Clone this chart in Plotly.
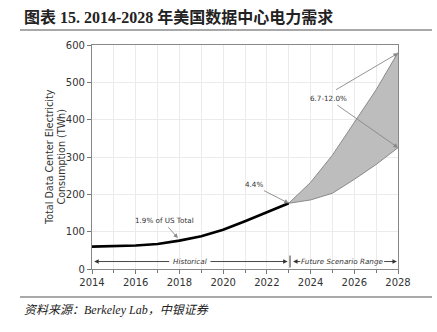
import plotly.graph_objects as go

hist_years = [2014, 2015, 2016, 2017, 2018, 2019, 2020, 2021, 2022, 2023]
hist_values = [60, 60.5, 63, 67, 76, 88, 105, 128, 151, 176]
future_years = [2023, 2024, 2025, 2026, 2027, 2028]
future_low = [176, 185, 203, 240, 280, 325]
future_high = [176, 232, 305, 392, 480, 580]

title_text = "<b>图表 15. 2014-2028 年美国数据中心电力需求</b>"
source_text = "资料来源：Berkeley Lab，中银证券"
y_title = "Total Data Center Electricity<br>Consumption (TWh)"

fig = go.Figure()
fig.add_trace(go.Scatter(x=future_years, y=future_low, mode="lines",
                         line=dict(color="#8a8a8a", width=1), showlegend=False, hoverinfo="skip"))
fig.add_trace(go.Scatter(x=future_years, y=future_high, mode="lines", fill="tonexty",
                         fillcolor="#bdbdbd", line=dict(color="#8a8a8a", width=1),
                         showlegend=False, hoverinfo="skip"))
fig.add_trace(go.Scatter(x=hist_years, y=hist_values, mode="lines",
                         line=dict(color="black", width=2.6), showlegend=False))

afont = dict(family="DejaVu Sans", size=7.2, color="#333333")
ifont = dict(family="DejaVu Sans", size=7.2, color="#333333")

def arrow(x, y, ax, ay, color="#888888"):
    fig.add_annotation(x=x, y=y, ax=ax, ay=ay, xref="x", yref="y", axref="x", ayref="y",
                       text="", showarrow=True, arrowhead=2, arrowsize=1, arrowwidth=0.9,
                       arrowcolor=color)

# callouts
fig.add_annotation(x=2024.82, y=458, text="6.7-12.0%", showarrow=False, font=afont)
arrow(2028, 578, 2025.1, 478)
arrow(2028, 325, 2025.15, 442)
fig.add_annotation(x=2021.43, y=226, text="4.4%", showarrow=False, font=afont)
arrow(2023, 176, 2021.8, 212)
fig.add_annotation(x=2017.32, y=131, text="1.9% of US Total", showarrow=False, font=afont)
arrow(2017.93, 83, 2017.43, 116)

# period arrows
fig.add_annotation(x=2018.5, y=20, text="<i>Historical</i>", showarrow=False, font=ifont)
arrow(2014.1, 20, 2017.6, 20, "#333333")
arrow(2022.95, 20, 2019.35, 20, "#333333")
fig.add_annotation(x=2025.45, y=20, text="<i>Future Scenario Range</i>", showarrow=False, font=ifont)
arrow(2023.2, 20, 2023.6, 20, "#333333")
arrow(2027.95, 20, 2027.3, 20, "#333333")
fig.add_shape(type="line", x0=2023.06, x1=2023.06, y0=4, y1=36, xref="x", yref="y",
              line=dict(color="#333333", width=1))

# y title
fig.add_annotation(x=(55 - 92) / 306, y=0.5, xref="paper", yref="paper", text=y_title, textangle=-90,
                   xanchor="center", yanchor="middle",
                   showarrow=False, font=dict(family="DejaVu Sans", size=9.6, color="#333333"))

# title & source
fig.add_annotation(x=(22 - 92) / 306, y=(269 - 17) / 224, xref="paper", yref="paper",
                   text=title_text, showarrow=False, xanchor="left", yanchor="middle",
                   font=dict(family="Liberation Serif, Noto Sans CJK SC", size=16, color="#222222"))
fig.add_annotation(x=(22 - 92) / 306, y=(269 - 310) / 224, xref="paper", yref="paper",
                   text="<i>" + source_text + "</i>", showarrow=False, xanchor="left", yanchor="middle",
                   font=dict(family="Liberation Serif, Noto Sans CJK SC", size=12, color="#222222"))
for py in (30, 297):
    fig.add_shape(type="line", xref="paper", yref="paper", x0=(20 - 92) / 306, x1=(432 - 92) / 306,
                  y0=(269 - py) / 224, y1=(269 - py) / 224, line=dict(color="#555555", width=1.2))

axfont = dict(family="DejaVu Sans", size=10, color="#333333")
fig.update_xaxes(range=[2014, 2028], tickvals=[2014, 2016, 2018, 2020, 2022, 2024, 2026, 2028],
                 ticks="outside", ticklen=4, tickcolor="#777777", showgrid=True, gridcolor="#ebebeb",
                 minor=dict(dtick=1, tick0=2014, showgrid=True, gridcolor="#ebebeb", ticks="outside",
                            ticklen=3, tickcolor="#777777"),
                 showline=True, linecolor="#888888", linewidth=1.2, mirror=True, zeroline=False,
                 tickfont=axfont)
fig.update_yaxes(range=[0, 600], dtick=100, ticks="outside", ticklen=4, tickcolor="#777777",
                 showgrid=True, gridcolor="#ebebeb", showline=True, linecolor="#888888", linewidth=1.2,
                 mirror=True, zeroline=False, tickfont=axfont)
fig.update_layout(width=437, height=332, margin=dict(l=92, r=39, t=45, b=63),
                  plot_bgcolor="white", paper_bgcolor="white")
fig.write_html("out.html")
